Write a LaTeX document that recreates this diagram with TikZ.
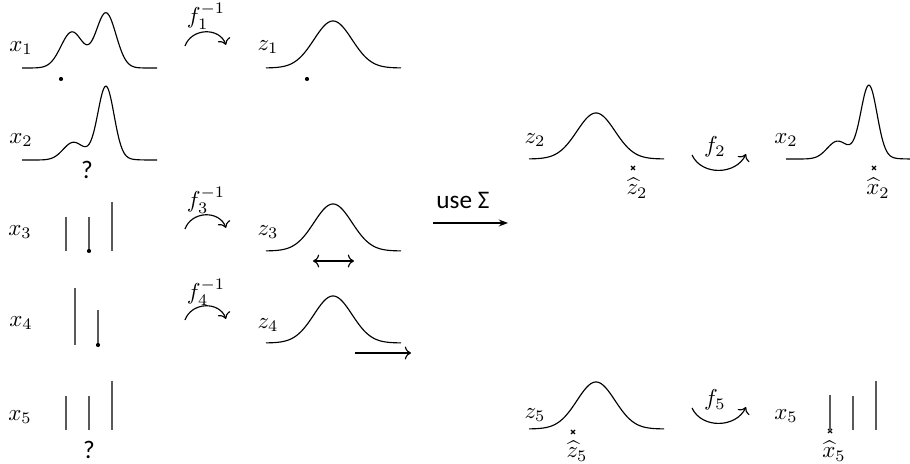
\documentclass[tikz,border=0pt]{standalone}
\usepackage{amsmath,amssymb}
\usepackage{fontspec}
\newfontfamily\calibri{Carlito}
\usetikzlibrary{arrows.meta}

\begin{document}
\begin{tikzpicture}[x=0.435pt, y=-0.435pt,
	curve/.style={line width=0.5pt},
	bar/.style={gray!70!black, line width=0.6pt},
	dot/.style={circle, fill, inner sep=0pt, minimum size=1.8pt},
	hatlabel/.style={inner sep=0pt},
	flip/.style={->, line width=0.5pt},
	sans/.style={font=\calibri\fontsize{11}{13}\selectfont},
	pics/cross/.style={code={\draw[line width=0.5pt] (-2,-2) -- (2,2) (-2,2) -- (2,-2);}}]
	\useasboundingbox (0,0) rectangle (910,464);
	% left column: x_i
	\node (x1) at (21,48) {$x_1$};
	\draw[curve, shift={(22,68)}] plot[domain=0:135, samples=120, smooth] (\x,{-(36*exp(-((\x-50)^2)/242)+55*exp(-((\x-84)^2)/200))});
	\node[dot] (d1) at (61,79) {};
	\node (x2) at (21,140) {$x_2$};
	\draw[curve, shift={(22,160)}] plot[domain=0:135, samples=120, smooth] (\x,{-(17*exp(-((\x-51)^2)/200)+68*exp(-((\x-84)^2)/128)+6*exp(-((\x-80)^2)/392))});
	\node[sans] (q2) at (87,170) {?};
	\node (x3) at (20,232) {$x_3$};
	\draw[bar] (66,217) -- (66,251);
	\draw[bar] (89,217) -- (89,251);
	\draw[bar] (112,202) -- (112,251);
	\node[dot] (d3) at (89,251) {};
	\node (x4) at (21,323) {$x_4$};
	\draw[bar] (75,288) -- (75,345);
	\draw[bar] (98,310) -- (98,345);
	\node[dot] (d4) at (98,345) {};
	\node (x5) at (20,417) {$x_5$};
	\draw[bar] (66,396) -- (66,430);
	\draw[bar] (89,396) -- (89,430);
	\draw[bar] (112,381) -- (112,430);
	\node[sans] (q5) at (89,450) {?};
	% inverse maps
	\node (f1) at (206,16) {$f_1^{-1}$};
	\coordinate (f1a) at (185,46); \coordinate (f1b) at (226,45);
	\draw[flip] (f1a) to[out=70, in=110, looseness=1.2] (f1b);
	\node (f3) at (206,200) {$f_3^{-1}$};
	\coordinate (f3a) at (185,229); \coordinate (f3b) at (226,228);
	\draw[flip] (f3a) to[out=70, in=110, looseness=1.2] (f3b);
	\node (f4) at (206,292) {$f_4^{-1}$};
	\coordinate (f4a) at (185,320); \coordinate (f4b) at (226,319);
	\draw[flip] (f4a) to[out=70, in=110, looseness=1.2] (f4b);
	% z_i
	\node (z1) at (268,47) {$z_1$};
	\draw[curve, shift={(266,68)}] plot[domain=0:135, samples=100, smooth] (\x,{-47*exp(-((\x-67)^2)/722)});
	\node[dot] (e1) at (307,79) {};
	\node (z3) at (268,232) {$z_3$};
	\draw[curve, shift={(266,251)}] plot[domain=0:135, samples=100, smooth] (\x,{-47*exp(-((\x-67)^2)/722)});
	\coordinate (s3a) at (313,261); \coordinate (s3b) at (354,261);
	\draw[<->, line width=0.5pt] (s3a) -- (s3b);
	\node (z4) at (268,325) {$z_4$};
	\draw[curve, shift={(266,343)}] plot[domain=0:135, samples=100, smooth] (\x,{-47*exp(-((\x-67)^2)/722)});
	\coordinate (s4a) at (355,353); \coordinate (s4b) at (411,353);
	\draw[->, line width=0.5pt] (s4a) -- (s4b);
	% conditioning
	\node[sans] (use) at (463,200) {use Σ};
	\coordinate (ua) at (433,223); \coordinate (ub) at (508,223);
	\draw[-{Stealth[length=4pt, width=3pt]}, line width=0.5pt] (ua) -- (ub);
	% right: z_2 -> x_2
	\node (z2) at (535,140) {$z_2$};
	\draw[curve, shift={(529,159)}] plot[domain=0:135, samples=100, smooth] (\x,{-46*exp(-((\x-67)^2)/722)});
	\coordinate (m2) at (633,168); \pic at (m2) {cross};
	\node[hatlabel] (hz2) at (637,188) {$\widehat{z}_2$};
	\node (f2) at (715,147) {$f_2$};
	\coordinate (f2a) at (692,155); \coordinate (f2b) at (746,154);
	\draw[flip] (f2a) to[out=-65, in=-115, looseness=1.1] (f2b);
	\node (rx2) at (786,140) {$x_2$};
	\draw[curve, shift={(786,159)}] plot[domain=0:124, samples=120, smooth] (\x,{-(17*exp(-((\x-51)^2)/200)+68*exp(-((\x-83)^2)/128)+6*exp(-((\x-79)^2)/392))});
	\coordinate (n2) at (874,168); \pic at (n2) {cross};
	\node[hatlabel] (hx2) at (878,188) {$\widehat{x}_2$};
	% right: z_5 -> x_5
	\node (z5) at (535,415) {$z_5$};
	\draw[curve, shift={(529,429)}] plot[domain=0:135, samples=100, smooth] (\x,{-47*exp(-((\x-67)^2)/722)});
	\coordinate (m5) at (573,432); \pic at (m5) {cross};
	\node[hatlabel] (hz5) at (577,451) {$\widehat{z}_5$};
	\node (f5) at (715,400) {$f_5$};
	\coordinate (f5a) at (692,408); \coordinate (f5b) at (746,407);
	\draw[flip] (f5a) to[out=-65, in=-115, looseness=1.1] (f5b);
	\node (rx5) at (786,416) {$x_5$};
	\coordinate (l5) at (830,395);
	\coordinate (n5) at (830,431); \pic at (n5) {cross};
	\draw[bar] (l5) -- (n5);
	\draw[bar] (853,396) -- (853,430);
	\draw[bar] (876,381) -- (876,430);
	\node[hatlabel] (hx5) at (834,451) {$\widehat{x}_5$};
\end{tikzpicture}
\end{document}
